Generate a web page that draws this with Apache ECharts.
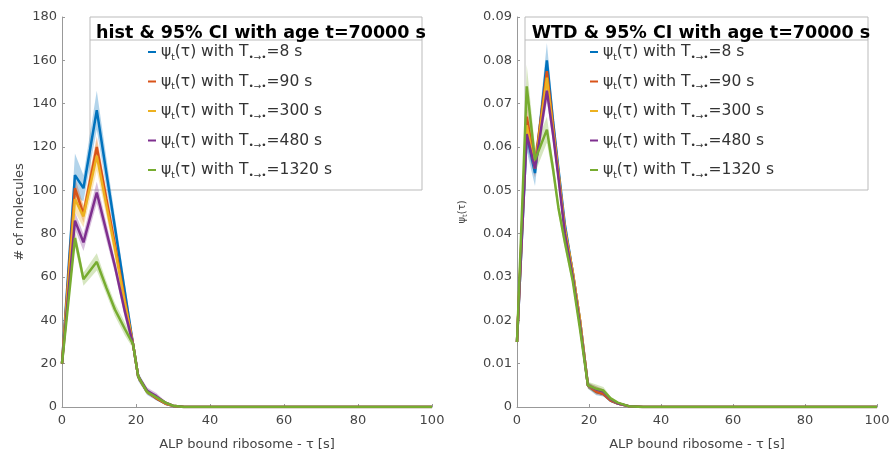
<!DOCTYPE html>
<html>
<head>
<meta charset="utf-8">
<script src="https://cdn.jsdelivr.net/npm/echarts@6/dist/echarts.min.js"></script>
<style>
  html, body { margin: 0; padding: 0; background: #fff; }
  #chart { width: 893px; height: 456px; }
</style>
</head>
<body>
<div id="chart"></div>
<script>
// legend labels (T dot-arrow-dot values)
var names = ['8 s', '90 s', '300 s', '480 s', '1320 s'];
var colors = ['#0072BD', '#D95319', '#EDB120', '#7E2F8E', '#77AC30'];

// left panel: histogram (# of molecules) vs tau [s]
var histX = [0, 3.5, 5.8, 9.4, 12, 14.3, 17, 19.2, 20.6, 23, 25.5, 28, 30, 33, 40, 50, 60, 70, 80, 90, 100];
var hist8    = [20, 107, 101, 137, 108, 83, 53, 29, 14, 7, 4, 1.5, 0.5, 0, 0, 0, 0, 0, 0, 0, 0];
var hist90   = [20, 101, 89, 120, 96, 75, 49, 29, 14, 7, 4, 1.5, 0.5, 0, 0, 0, 0, 0, 0, 0, 0];
var hist300  = [20, 96, 88, 116, 93, 73, 48, 29, 14, 7, 4.5, 1.8, 0.6, 0, 0, 0, 0, 0, 0, 0, 0];
var hist480  = [20, 86, 76, 99, 81, 65, 44, 29, 14, 7.5, 5, 2, 0.6, 0, 0, 0, 0, 0, 0, 0, 0];
var hist1320 = [20, 78, 59, 67, 55, 45, 36, 29, 14, 7, 4.5, 2, 0.6, 0, 0, 0, 0, 0, 0, 0, 0];
// 95% CI half widths
var histCi8    = [1, 10, 6, 9, 7, 5, 4, 3, 2, 1.5, 1, 0.5, 0.2, 0, 0, 0, 0, 0, 0, 0, 0];
var histCi90   = [1, 5, 4, 5, 4, 3, 3, 2, 1.5, 1, 0.8, 0.4, 0.2, 0, 0, 0, 0, 0, 0, 0, 0];
var histCi300  = [1, 6, 5, 7, 5, 4, 3, 2, 1.5, 1, 0.8, 0.4, 0.2, 0, 0, 0, 0, 0, 0, 0, 0];
var histCi480  = [1, 4, 4, 5, 4, 3, 3, 2, 1.5, 1.5, 1.5, 0.5, 0.2, 0, 0, 0, 0, 0, 0, 0, 0];
var histCi1320 = [1, 4, 3, 4, 3, 3, 3, 2, 1.5, 1, 0.8, 0.4, 0.2, 0, 0, 0, 0, 0, 0, 0, 0];

// right panel: waiting time distribution
var wtdX = [0, 2.7, 5, 8.3, 10, 11.5, 13.3, 15.5, 17.5, 19.7, 22, 24, 26, 28, 31, 35, 40, 50, 60, 70, 80, 90, 100];
var wtd8    = [0.015, 0.063, 0.054, 0.080, 0.066, 0.055, 0.042, 0.031, 0.020, 0.005, 0.0035, 0.003, 0.0015, 0.0008, 0.0002, 0, 0, 0, 0, 0, 0, 0, 0];
var wtd90   = [0.015, 0.067, 0.056, 0.0775, 0.065, 0.054, 0.041, 0.031, 0.020, 0.005, 0.0035, 0.003, 0.0015, 0.0008, 0.0002, 0, 0, 0, 0, 0, 0, 0, 0];
var wtd300  = [0.015, 0.065, 0.055, 0.076, 0.064, 0.054, 0.041, 0.031, 0.020, 0.005, 0.004, 0.0035, 0.0018, 0.0008, 0.0002, 0, 0, 0, 0, 0, 0, 0, 0];
var wtd480  = [0.015, 0.063, 0.055, 0.073, 0.063, 0.053, 0.040, 0.030, 0.019, 0.005, 0.004, 0.0035, 0.0018, 0.0008, 0.0002, 0, 0, 0, 0, 0, 0, 0, 0];
var wtd1320 = [0.015, 0.074, 0.057, 0.064, 0.055, 0.046, 0.038, 0.029, 0.018, 0.005, 0.0042, 0.0038, 0.002, 0.001, 0.0002, 0, 0, 0, 0, 0, 0, 0, 0];
var wtdCi8    = [0.001, 0.004, 0.003, 0.004, 0.003, 0.002, 0.002, 0.0015, 0.001, 0.0008, 0.0008, 0.0006, 0.0004, 0.0002, 0, 0, 0, 0, 0, 0, 0, 0, 0];
var wtdCi90   = [0.001, 0.003, 0.002, 0.0025, 0.002, 0.0015, 0.0015, 0.001, 0.001, 0.0006, 0.0006, 0.0005, 0.0003, 0.0002, 0, 0, 0, 0, 0, 0, 0, 0, 0];
var wtdCi300  = [0.001, 0.003, 0.002, 0.003, 0.002, 0.0015, 0.0015, 0.001, 0.001, 0.0006, 0.0008, 0.0006, 0.0003, 0.0002, 0, 0, 0, 0, 0, 0, 0, 0, 0];
var wtdCi480  = [0.001, 0.003, 0.002, 0.0025, 0.002, 0.0015, 0.0015, 0.001, 0.001, 0.0006, 0.0008, 0.0006, 0.0003, 0.0002, 0, 0, 0, 0, 0, 0, 0, 0, 0];
var wtdCi1320 = [0.001, 0.005, 0.003, 0.003, 0.002, 0.0015, 0.0015, 0.001, 0.001, 0.0008, 0.001, 0.0008, 0.0004, 0.0002, 0, 0, 0, 0, 0, 0, 0, 0, 0];

var histMeans = [hist8, hist90, hist300, hist480, hist1320];
var histCis = [histCi8, histCi90, histCi300, histCi480, histCi1320];
var wtdMeans = [wtd8, wtd90, wtd300, wtd480, wtd1320];
var wtdCis = [wtdCi8, wtdCi90, wtdCi300, wtdCi480, wtdCi1320];

var font = 'DejaVu Sans';

function pairs(xs, ys) {
    return xs.map(function (x, i) { return [x, ys[i]]; });
}

function panelSeries(idx, xs, means, cis) {
    var out = [];
    // CI bands as polygons through the axis scales
    means.forEach(function (m, k) {
        var band = xs.map(function (x, i) { return [x, m[i] - cis[k][i], m[i] + cis[k][i]]; });
        out.push({
            name: 'ci' + idx + k, type: 'custom', xAxisIndex: idx, yAxisIndex: idx,
            silent: true, data: band,
            encode: { x: 0, y: [1, 2] },
            renderItem: function (params, api) {
                if (params.dataIndex !== 0) return null;
                var top = [], bot = [];
                band.forEach(function (d) {
                    top.push(api.coord([d[0], d[2]]));
                    bot.push(api.coord([d[0], d[1]]));
                });
                return {
                    type: 'polygon',
                    shape: { points: top.concat(bot.reverse()) },
                    style: { fill: colors[k], opacity: 0.3 }
                };
            }
        });
    });
    means.forEach(function (m, k) {
        out.push({
            name: names[k], type: 'line', xAxisIndex: idx, yAxisIndex: idx,
            symbol: 'none', color: colors[k],
            lineStyle: { width: 2.5, color: colors[k] },
            data: pairs(xs, m)
        });
    });
    return out;
}

var legendRich = {
    a: { fontFamily: font, fontSize: 15.5, color: '#333', lineHeight: 20 },
    s: { fontFamily: font, fontSize: 9, color: '#333', lineHeight: 20, verticalAlign: 'bottom', padding: [10, 0, 0, 0] }
};

function legendFor(left) {
    return {
        orient: 'vertical', left: left, top: 43, padding: 0,
        itemWidth: 8, itemHeight: 2, itemGap: 10.5, icon: 'rect',
        data: names,
        formatter: function (n) {
            return '{a|\u03c8}{s|t}{a|(\u03c4) with T}{s|\u2022\u2192\u2022}{a|=' + n + '}';
        },
        textStyle: { rich: legendRich, padding: [0, 0, 0, 0] },
        selectedMode: false
    };
}

function axisX(idx) {
    return {
        type: 'value', gridIndex: idx, min: 0, max: 100, interval: 20,
        name: 'ALP bound ribosome - \u03c4 [s]', nameLocation: 'middle', nameGap: 31,
        nameTextStyle: { fontFamily: font, fontSize: 13, color: '#444' },
        axisLine: { onZero: false, lineStyle: { color: '#999' } },
        axisTick: { inside: true, length: 3, lineStyle: { color: '#999' } },
        axisLabel: { fontFamily: font, fontSize: 13, color: '#444', margin: 7 },
        splitLine: { show: false }
    };
}

var chart = echarts.init(document.getElementById('chart'));
chart.setOption({
    animation: false,
    backgroundColor: '#fff',
    grid: [
        { left: 62, right: 461, top: 17, bottom: 46 },
        { left: 517, right: 16, top: 17, bottom: 46 }
    ],
    title: [
        { text: 'hist & 95% CI with age t=70000 s', left: 256, top: 19, textAlign: 'center',
          textStyle: { fontFamily: font, fontSize: 17.5, fontWeight: 'bold', color: '#000' } },
        { text: 'WTD & 95% CI with age t=70000 s', left: 696, top: 19, textAlign: 'center',
          textStyle: { fontFamily: font, fontSize: 17.5, fontWeight: 'bold', color: '#000' } }
    ],
    legend: [legendFor(148), legendFor(590)],
    graphic: [
        { type: 'rect', shape: { x: 90, y: 17, width: 332, height: 173 }, z: -1,
          style: { fill: 'none', stroke: '#bbb', lineWidth: 1 } },
        { type: 'line', shape: { x1: 90, y1: 40, x2: 422, y2: 40 }, z: -1,
          style: { stroke: '#bbb', lineWidth: 1 } },
        { type: 'rect', shape: { x: 525, y: 17, width: 343, height: 173 }, z: -1,
          style: { fill: 'none', stroke: '#bbb', lineWidth: 1 } },
        { type: 'line', shape: { x1: 525, y1: 40, x2: 868, y2: 40 }, z: -1,
          style: { stroke: '#bbb', lineWidth: 1 } }
    ],
    xAxis: [axisX(0), axisX(1)],
    yAxis: [
        {
            type: 'value', gridIndex: 0, min: 0, max: 180, interval: 20,
            name: '# of molecules', nameLocation: 'middle', nameGap: 36,
            nameTextStyle: { fontFamily: font, fontSize: 13, color: '#444' },
            axisLine: { show: true, lineStyle: { color: '#999' } },
            axisTick: { show: true, inside: true, length: 3, lineStyle: { color: '#999' } },
            axisLabel: { fontFamily: font, fontSize: 13, color: '#444', margin: 5 },
            splitLine: { show: false }
        },
        {
            type: 'value', gridIndex: 1, min: 0, max: 0.09, interval: 0.01,
            name: '{a|\u03c8}{s|t}{a|(\u03c4)}', nameLocation: 'middle', nameGap: 48,
            nameTextStyle: { rich: {
                a: { fontFamily: font, fontSize: 10, color: '#444' },
                s: { fontFamily: font, fontSize: 7, color: '#444', padding: [6, 0, 0, 0] }
            } },
            axisLine: { show: true, lineStyle: { color: '#999' } },
            axisTick: { show: true, inside: true, length: 3, lineStyle: { color: '#999' } },
            axisLabel: { fontFamily: font, fontSize: 13, color: '#444', margin: 5 },
            splitLine: { show: false }
        }
    ],
    series: panelSeries(0, histX, histMeans, histCis).concat(panelSeries(1, wtdX, wtdMeans, wtdCis))
});
</script>
</body>
</html>
